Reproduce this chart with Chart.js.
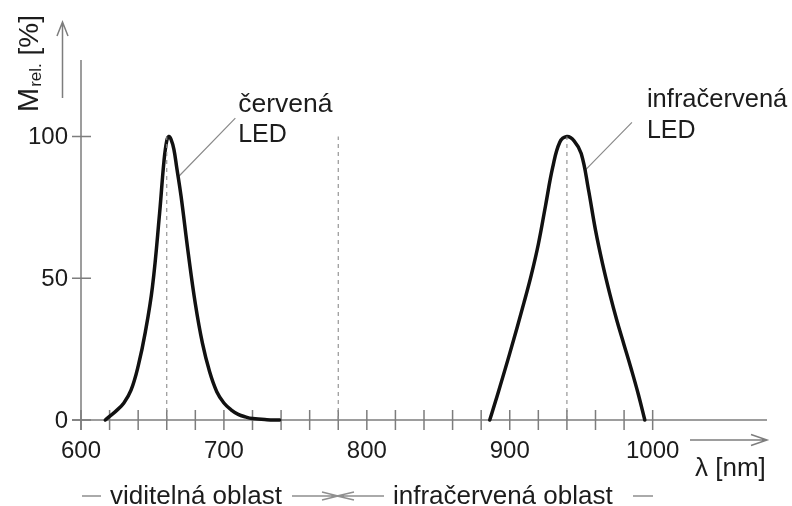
<!DOCTYPE html>
<html>
<head>
<meta charset="utf-8">
<script src="https://cdn.jsdelivr.net/npm/chart.js@4.4.1/dist/chart.umd.min.js"></script>
<style>
  html, body { margin: 0; padding: 0; background: #fff; }
  #wrap { width: 792px; height: 506px; }
</style>
</head>
<body>
<div id="wrap"><canvas id="ledChart" width="792" height="506"></canvas></div>
<script>
// emission spectra: wavelength [nm] / relative intensity [%]
const redNm = [617, 620, 625, 630, 635, 640, 645, 650, 655, 658, 660, 661.5, 663, 665, 667, 670, 675, 680, 685, 690, 695, 700, 705, 710, 715, 720, 730, 739];
const redRel = [0, 1.3, 3.4, 6, 10.5, 19, 31, 47, 73, 91, 98.5, 100, 99, 95.5, 89, 79, 59, 41, 27, 17, 10, 6, 3.6, 2, 1.1, 0.5, 0.1, 0];
const irNm = [886, 890, 900, 910, 915, 920, 925, 930, 935, 940, 945, 950, 955, 960, 965, 970, 975, 980, 985, 990, 994.5];
const irRel = [0, 6.5, 23.5, 41.5, 51, 62, 75.5, 89, 98, 100, 98.5, 94, 81.5, 67, 55, 44.5, 35, 26.5, 18, 9, 0];

// dashed verticals: red peak, visible/IR boundary, IR peak
const markerNm = [660, 780, 940];
const markerTop = 100;

// axis ticks
const xTicks = [600, 620, 640, 660, 680, 700, 720, 740, 760, 780, 800, 820, 840, 860, 880, 900, 920, 940, 960, 980, 1000];
const xLabels = [600, 700, 800, 900, 1000];
const yTicks = [0, 50, 100];

const INK = "#1c1c1c";
const AXIS = "#7d7d7d";
const FONT = "Liberation Sans, Arial, sans-serif";

function toXY(xs, ys) {
  return xs.map((x, i) => ({ x, y: ys[i] }));
}

/* ============================
   AXES, ARROWS AND LABELS
============================ */
const decorations = {
  id: "decorations",
  beforeDatasetsDraw(chart) {
    const ctx = chart.ctx;
    const sx = chart.scales.x;
    const sy = chart.scales.y;
    const x0 = sx.getPixelForValue(600);
    const y0 = sy.getPixelForValue(0);

    ctx.save();
    ctx.strokeStyle = AXIS;
    ctx.lineWidth = 1.5;

    // axis lines (slightly past the origin)
    ctx.beginPath();
    ctx.moveTo(x0 - 9, y0);
    ctx.lineTo(chart.chartArea.right, y0);
    ctx.moveTo(x0, chart.chartArea.top);
    ctx.lineTo(x0, y0 + 10);
    ctx.stroke();

    // crossing ticks
    ctx.beginPath();
    xTicks.forEach((v) => {
      const px = sx.getPixelForValue(v);
      ctx.moveTo(px, y0 - 10);
      ctx.lineTo(px, y0 + 10);
    });
    yTicks.forEach((v) => {
      const py = sy.getPixelForValue(v);
      ctx.moveTo(x0 - 9, py);
      ctx.lineTo(x0 + 10, py);
    });
    ctx.stroke();

    // tick labels
    ctx.fillStyle = INK;
    ctx.font = "24px " + FONT;
    ctx.textAlign = "center";
    ctx.textBaseline = "alphabetic";
    xLabels.forEach((v) => {
      ctx.fillText(String(v), sx.getPixelForValue(v), y0 + 38);
    });
    ctx.textAlign = "right";
    ctx.textBaseline = "middle";
    yTicks.forEach((v) => {
      ctx.fillText(String(v), x0 - 13, sy.getPixelForValue(v) + 1);
    });

    // leader lines to the peaks
    ctx.strokeStyle = "#8a8a8a";
    ctx.lineWidth = 1.2;
    ctx.beginPath();
    ctx.moveTo(sx.getPixelForValue(708), sy.getPixelForValue(106.5));
    ctx.lineTo(sx.getPixelForValue(668.5), sy.getPixelForValue(86));
    ctx.moveTo(sx.getPixelForValue(985.5), sy.getPixelForValue(105));
    ctx.lineTo(sx.getPixelForValue(952.5), sy.getPixelForValue(88));
    ctx.stroke();
    ctx.restore();
  },

  afterDraw(chart) {
    const ctx = chart.ctx;
    const sx = chart.scales.x;
    const sy = chart.scales.y;

    ctx.save();
    ctx.fillStyle = INK;
    ctx.strokeStyle = AXIS;
    ctx.lineWidth = 1.5;
    ctx.textAlign = "left";
    ctx.textBaseline = "alphabetic";

    // peak annotations
    ctx.font = "26.5px " + FONT;
    ctx.fillText("červená", sx.getPixelForValue(710), sy.getPixelForValue(108.5));
    ctx.font = "25.5px " + FONT;
    ctx.fillText("infračervená", sx.getPixelForValue(996), sy.getPixelForValue(110.5));
    ctx.font = "25px " + FONT;
    ctx.fillText("LED", sx.getPixelForValue(710), sy.getPixelForValue(98));
    ctx.fillText("LED", sx.getPixelForValue(996), sy.getPixelForValue(99.5));

    // y axis arrow + title
    ctx.beginPath();
    ctx.moveTo(62.5, 98);
    ctx.lineTo(62.5, 23);
    ctx.moveTo(57, 36);
    ctx.lineTo(62.5, 22);
    ctx.lineTo(68, 36);
    ctx.stroke();

    ctx.save();
    ctx.translate(38, 112);
    ctx.rotate(-Math.PI / 2);
    ctx.font = "29px " + FONT;
    ctx.fillText("M", 0, 0);
    let w = ctx.measureText("M").width;
    ctx.font = "17px " + FONT;
    ctx.fillText("rel.", w + 1, 3);
    w += 1 + ctx.measureText("rel.").width;
    ctx.font = "28px " + FONT;
    ctx.fillText(" [%]", w, 0);
    ctx.restore();

    // x axis arrow + title
    ctx.beginPath();
    ctx.moveTo(690, 440);
    ctx.lineTo(767, 440);
    ctx.moveTo(751, 434.5);
    ctx.lineTo(767, 440);
    ctx.lineTo(751, 445.5);
    ctx.stroke();
    ctx.font = "26px " + FONT;
    ctx.fillText("λ [nm]", 695, 476);

    // visible / infrared region bar
    const by = 496;
    ctx.font = "26px " + FONT;
    ctx.fillText("viditelná oblast", 110, 504);
    ctx.fillText("infračervená oblast", 393, 504);
    ctx.strokeStyle = "#8f8f8f";
    ctx.lineWidth = 1.5;
    ctx.beginPath();
    ctx.moveTo(82, by);
    ctx.lineTo(101, by);
    ctx.moveTo(292, by);
    ctx.lineTo(334, by);
    ctx.moveTo(341, by);
    ctx.lineTo(384, by);
    ctx.moveTo(633, by);
    ctx.lineTo(653, by);
    // ><
    ctx.moveTo(322, by - 4);
    ctx.lineTo(338, by);
    ctx.lineTo(322, by + 4);
    ctx.moveTo(354, by - 4);
    ctx.lineTo(337, by);
    ctx.lineTo(354, by + 4);
    ctx.stroke();

    ctx.restore();
  },
};

/* ============================
   CHART
============================ */
const markerSets = markerNm.map((nm) => ({
  data: [{ x: nm, y: 0 }, { x: nm, y: markerTop }],
  borderColor: "#8c8c8c",
  borderWidth: 1.1,
  borderDash: [4, 4],
  pointRadius: 0,
  tension: 0,
  clip: false,
}));

const curveStyle = {
  borderColor: "#111",
  borderWidth: 3.5,
  pointRadius: 0,
  tension: 0.4,
  borderCapStyle: "round",
  borderJoinStyle: "round",
  clip: false,
};

new Chart(document.getElementById("ledChart"), {
  type: "line",
  data: {
    datasets: [
      ...markerSets,
      { ...curveStyle, data: toXY(redNm, redRel) },
      { ...curveStyle, data: toXY(irNm, irRel) },
    ],
  },
  options: {
    responsive: false,
    animation: false,
    layout: { padding: { left: 81, right: 25, top: 60, bottom: 86 } },
    plugins: { legend: { display: false }, tooltip: { enabled: false } },
    scales: {
      x: { type: "linear", min: 600, max: 1080, display: false },
      y: { min: 0, max: 127, display: false },
    },
  },
  plugins: [decorations],
});
</script>
</body>
</html>
